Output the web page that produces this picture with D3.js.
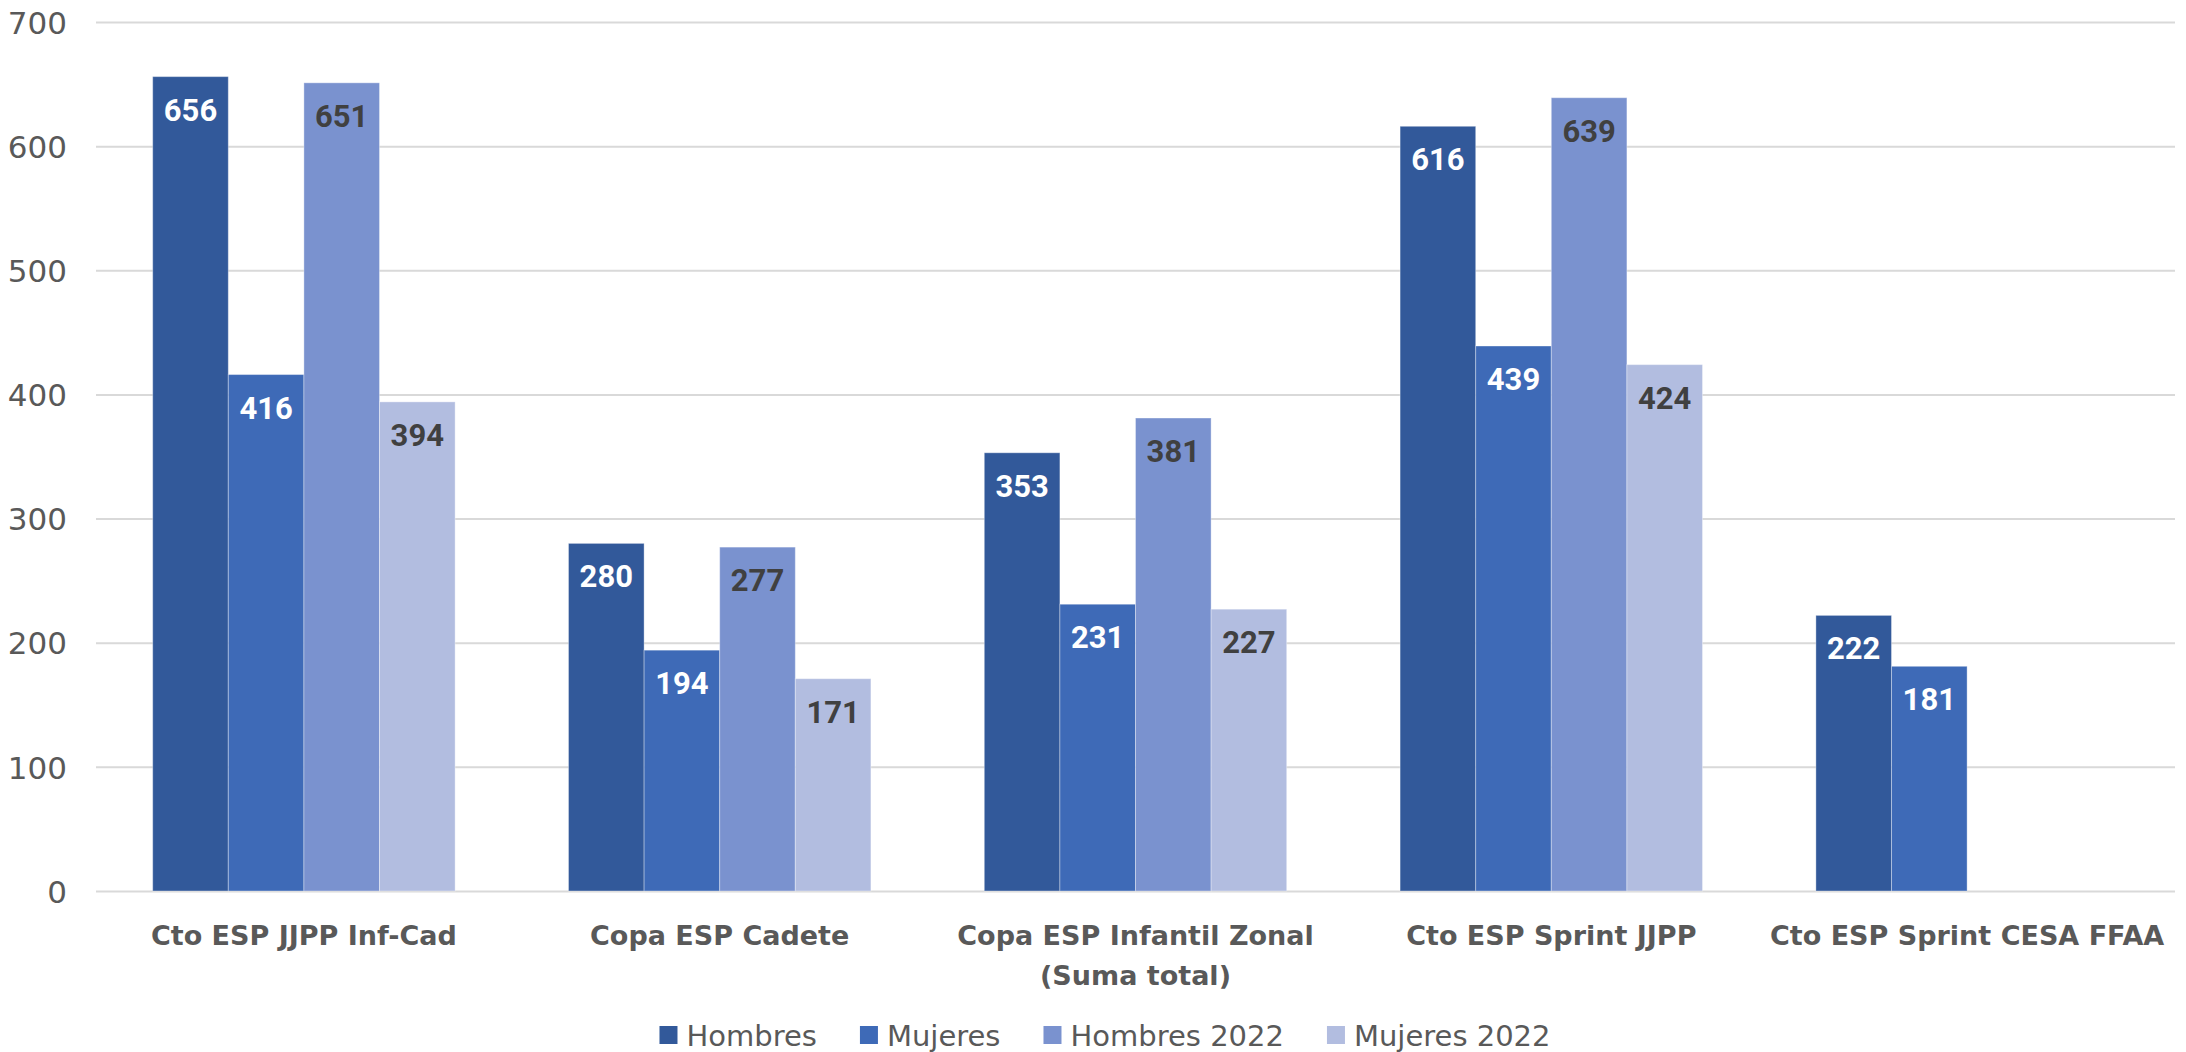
<!DOCTYPE html>
<html>
<head>
<meta charset="utf-8">
<script src="https://cdn.jsdelivr.net/npm/d3@7"></script>
<style>
  html, body { margin: 0; padding: 0; background: #fff; }
  svg { display: block; }
</style>
</head>
<body>
<svg id="chart" width="2186" height="1052"></svg>
<script>
// ---- data ----
const categories = [
  "Cto ESP JJPP Inf-Cad",
  "Copa ESP Cadete",
  "Copa ESP Infantil Zonal (Suma total)",
  "Cto ESP Sprint JJPP",
  "Cto ESP Sprint CESA FFAA"
];
const seriesNames = ["Hombres", "Mujeres", "Hombres 2022", "Mujeres 2022"];
const hombres      = [656, 280, 353, 616, 222];
const mujeres      = [416, 194, 231, 439, 181];
const hombres2022  = [651, 277, 381, 639, null];
const mujeres2022  = [394, 171, 227, 424, null];
const yTicks = [0, 100, 200, 300, 400, 500, 600, 700];

const seriesValues = [hombres, mujeres, hombres2022, mujeres2022];
const seriesColors = ["#32599A", "#3E6AB7", "#7A92CF", "#B2BDE0"];
const labelColors  = ["#FFFFFF", "#FFFFFF", "#404040", "#404040"];

// ---- layout ----
const W = 2186, H = 1052;
const margin = { left: 96, right: 11, top: 22, bottom: 161 };
const plotW = W - margin.left - margin.right;
const plotBottom = H - margin.bottom; // 891

const svg = d3.select("#chart");

const x0 = d3.scaleBand()
  .domain(categories)
  .range([margin.left, W - margin.right])
  .paddingInner(0.2727)
  .paddingOuter(0.2727 / 2);

const x1 = d3.scaleBand()
  .domain(seriesNames)
  .range([0, x0.bandwidth()])
  .padding(0);

const y = d3.scaleLinear()
  .domain([0, 700])
  .range([plotBottom, margin.top]);

// ---- y axis with gridlines ----
const yAxis = svg.append("g")
  .attr("transform", `translate(${margin.left},0)`)
  .call(d3.axisLeft(y).tickValues(yTicks).tickSize(-plotW).tickPadding(29).tickFormat(d3.format("d")));
yAxis.select(".domain").remove();
yAxis.selectAll(".tick line").attr("stroke", "#D9D9D9").attr("stroke-width", 2);
yAxis.selectAll(".tick text")
  .attr("fill", "#595959")
  .style("font-family", "'DejaVu Sans', sans-serif")
  .style("font-size", "31px")
  .attr("dy", "0.36em");

// ---- bars ----
const rows = categories.map((c, i) => ({
  category: c,
  values: seriesNames.map((s, j) => ({ series: s, idx: j, value: seriesValues[j][i] }))
}));

const groups = svg.append("g").selectAll("g")
  .data(rows)
  .join("g")
  .attr("transform", d => `translate(${x0(d.category)},0)`);

groups.selectAll("rect")
  .data(d => d.values.filter(v => v.value != null))
  .join("rect")
  .attr("x", d => x1(d.series))
  .attr("y", d => y(d.value))
  .attr("width", x1.bandwidth())
  .attr("height", d => y(0) - y(d.value))
  .attr("fill", d => seriesColors[d.idx])
  .attr("stroke", "#FFFFFF")
  .attr("stroke-opacity", 0.35)
  .attr("stroke-width", 1);

groups.selectAll("text")
  .data(d => d.values.filter(v => v.value != null))
  .join("text")
  .attr("x", d => x1(d.series) + x1.bandwidth() / 2)
  .attr("y", d => y(d.value) + 44)
  .attr("text-anchor", "middle")
  .attr("fill", d => labelColors[d.idx])
  .style("font-family", "Roboto, sans-serif")
  .style("font-weight", "700")
  .style("font-size", "31px")
  .text(d => d.value);

// ---- x axis (category labels) ----
const xAxis = svg.append("g")
  .attr("transform", `translate(0,${plotBottom})`)
  .call(d3.axisBottom(x0).tickSize(0).tickPadding(0));
xAxis.select(".domain").remove();
xAxis.selectAll(".tick text")
  .attr("fill", "#595959")
  .style("font-family", "'DejaVu Sans', sans-serif")
  .style("font-weight", "700")
  .style("font-size", "27px")
  .attr("dy", 0)
  .attr("y", 0)
  .call(wrap, x0.step() - 4);

function wrap(texts, width) {
  texts.each(function () {
    const text = d3.select(this);
    const words = text.text().split(/\s+/);
    text.text(null);
    let lines = [];
    let line = [];
    let tspan = text.append("tspan").attr("x", 0).attr("y", 54);
    words.forEach(w => {
      line.push(w);
      tspan.text(line.join(" "));
      if (tspan.node().getComputedTextLength() > width && line.length > 1) {
        line.pop();
        tspan.text(line.join(" "));
        line = [w];
        lines.push(tspan);
        tspan = text.append("tspan").attr("x", 0).attr("y", 54 + 40 * lines.length).text(w);
      }
    });
  });
}

// ---- legend ----
const legend = svg.append("g");
const legendCenter = 1105;
const mk = 18, gapAfterMarker = 9, gapBetween = 43;
const items = legend.selectAll("g")
  .data(seriesNames)
  .join("g");
items.append("rect")
  .attr("width", mk).attr("height", mk)
  .attr("y", 1026)
  .attr("fill", (d, i) => seriesColors[i]);
items.append("text")
  .attr("x", mk + gapAfterMarker)
  .attr("y", 1046)
  .attr("fill", "#595959")
  .style("font-family", "'DejaVu Sans', sans-serif")
  .style("font-size", "29px")
  .text(d => d);
let widths = [];
items.each(function () {
  widths.push(mk + gapAfterMarker + d3.select(this).select("text").node().getComputedTextLength());
});
const total = d3.sum(widths) + gapBetween * (widths.length - 1);
let cx = legendCenter - total / 2;
items.attr("transform", (d, i) => {
  const t = `translate(${cx},0)`;
  cx += widths[i] + gapBetween;
  return t;
});
</script>
</body>
</html>
